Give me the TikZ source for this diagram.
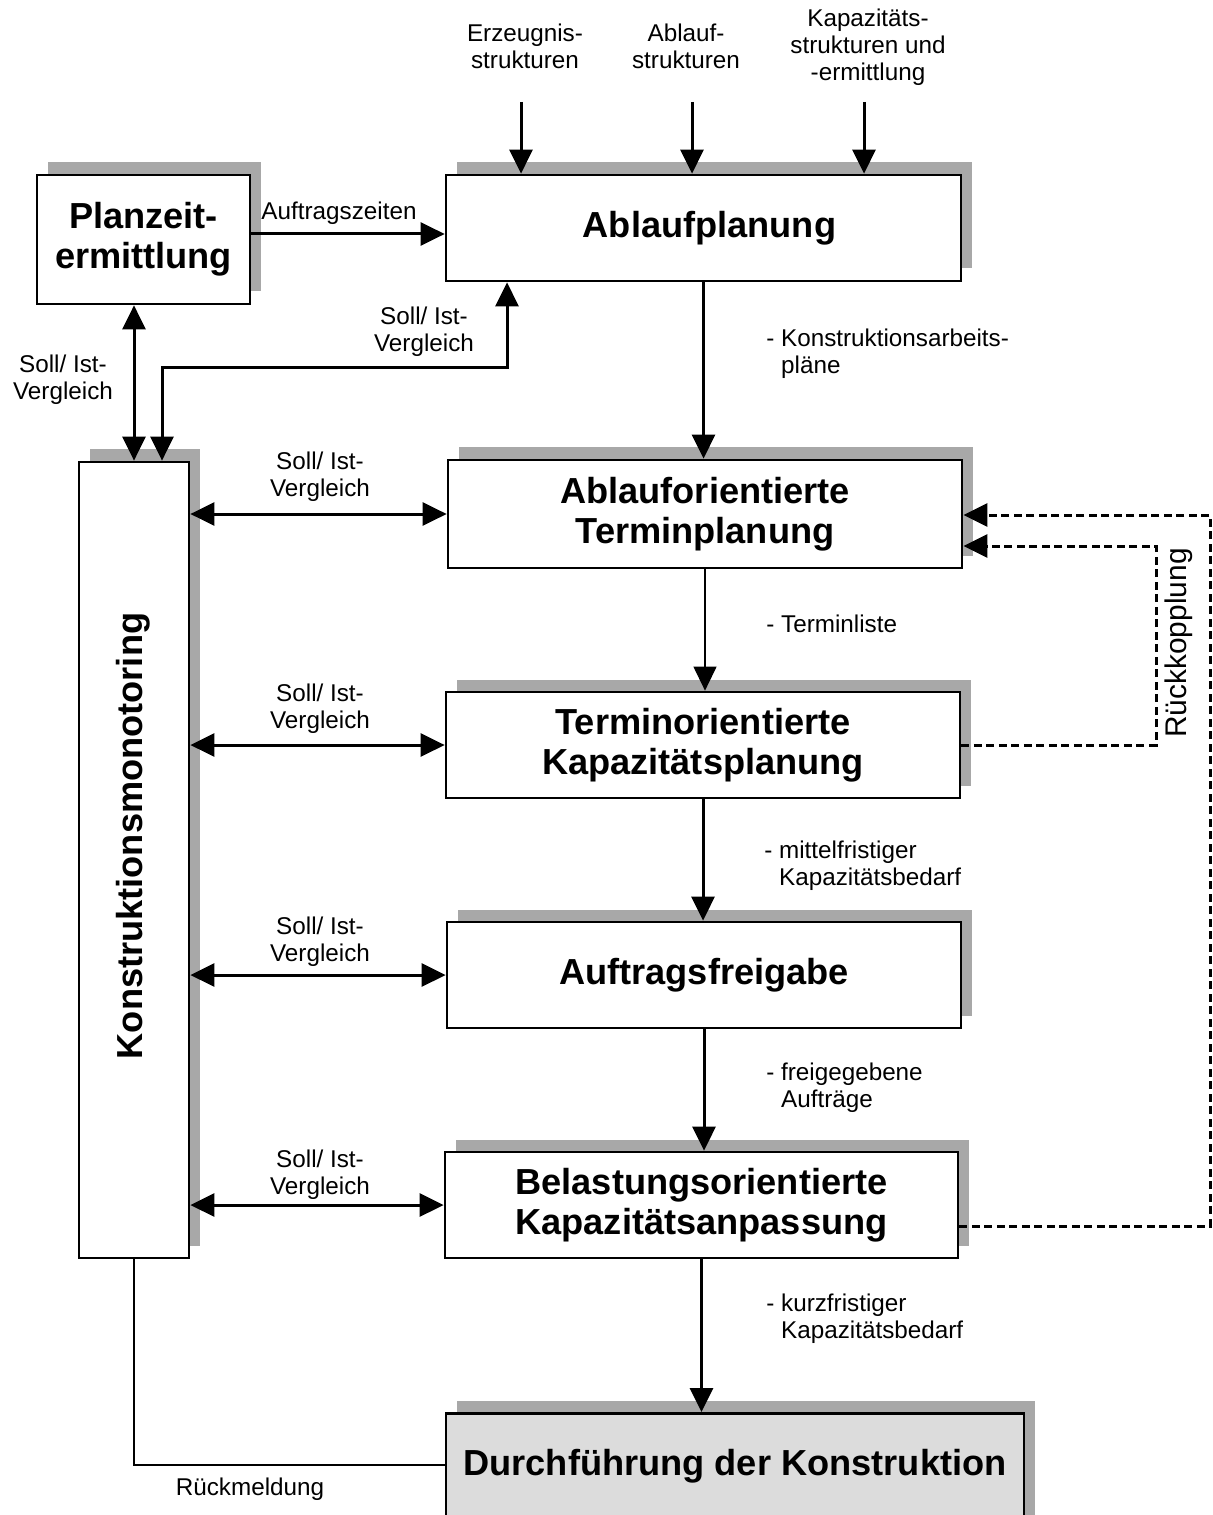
\documentclass[tikz,border=0pt]{standalone}
\usepackage{fontspec}
\setmainfont{Liberation Sans}
\usepackage{tikz}
\usetikzlibrary{arrows.meta,shadows}
\definecolor{shadowgray}{RGB}{168,168,168}
\definecolor{boxgray}{RGB}{220,220,220}

\begin{document}
\begin{tikzpicture}[x=0.2mm, y=-0.2mm,
  box/.style={draw, line width=0.55mm, fill=white, align=center,
    font=\fontsize{20.6}{22.7}\selectfont\bfseries,
    general shadow={fill=shadowgray, shadow xshift=2.2mm, shadow yshift=2.5mm}},
  lbl/.style={align=center, inner sep=0pt, font=\fontsize{13.8}{15.4}\selectfont},
  flow/.style={line width=0.6mm, -{Triangle[length=4.8mm,width=4.6mm]}},
  twoway/.style={line width=0.6mm, {Triangle[length=4.8mm,width=4.6mm]}-{Triangle[length=4.8mm,width=4.6mm]}},
  ruck/.style={line width=0.6mm, dash pattern=on 1.6mm off 0.9mm, -{Triangle[length=4.8mm,width=4.6mm]}}]

\useasboundingbox (0,0) rectangle (1213,1515);
\clip (0,0) rectangle (1213,1515);

% boxes
\node (plan) at (143.5,239.5) [box, minimum width=42.6mm, minimum height=25.8mm] {Planzeit-\\ermittlung};
\node (ablauf) at (703.5,228) [box, minimum width=103mm, minimum height=21.2mm] {\hspace*{2.4mm}Ablaufplanung};
\node (termin) at (705,514) [box, minimum width=102.8mm, minimum height=21.6mm] {Ablauforientierte\\Terminplanung};
\node (kapaz) at (703,745) [box, minimum width=102.8mm, minimum height=21.2mm] {Terminorientierte\\Kapazitätsplanung};
\node (freig) at (704,975) [box, minimum width=102.8mm, minimum height=21.2mm] {Auftragsfreigabe};
\node (belast) at (701.5,1205) [box, minimum width=102.6mm, minimum height=21.2mm] {Belastungsorientierte\\Kapazitätsanpassung};
\node (durch) at (735,1412) [box, fill=boxgray, anchor=north, minimum width=115.6mm,
  text height=5.3mm, text depth=8mm, inner ysep=7.1mm] {Durchführung der Konstruktion};
\node (monitor) at (134,860) [box, minimum width=22mm, minimum height=159.2mm] {};
\node (montext) at (133,836) [rotate=90, font=\fontsize{20.6}{22.7}\selectfont\bfseries] {Konstruktionsmonotoring};

% inputs
\node (in1) at (525,46.5) [lbl] {Erzeugnis-\\strukturen};
\node (in2) at (686,46.5) [lbl] {Ablauf-\\strukturen};
\node (in3) at (868,47) [lbl] {Kapazitäts-\\strukturen und\\-ermittlung};
\coordinate (e1) at (521,102);
\coordinate (e2) at (692,102);
\coordinate (e3) at (864,102);
\draw[flow] (e1) -- (e1 |- ablauf.north);
\draw[flow] (e2) -- (e2 |- ablauf.north);
\draw[flow] (e3) -- (e3 |- ablauf.north);

% planzeit
\draw[flow] ([yshift=1.1mm]plan.east) -- ([yshift=1.1mm]plan.east -| ablauf.west);
\node (auftr) at (339,213) [lbl] {Auftragszeiten};
\draw[twoway] (plan.south -| monitor.north) -- (monitor.north);
\node (sv0) at (63,379.5) [lbl] {Soll/ Ist-\\Vergleich};
\coordinate (s1) at (162,368);
\coordinate (s2) at (507,368);
\draw[twoway] (s1 |- monitor.north) -- (s1) -- (s2) -- (s2 |- ablauf.south);
\node (sv1) at (424,331.5) [lbl] {Soll/ Ist-\\Vergleich};

% main flow
\draw[flow] (ablauf.south) -- (ablauf.south |- termin.north);
\node (f1) at (766,353.5) [lbl, anchor=west, align=left] {- Konstruktionsarbeits-\\\hphantom{- }pläne};
\draw[flow, line width=0.25mm] (termin.south) -- (termin.south |- kapaz.north);
\node (f2) at (766,624) [lbl, anchor=west, align=left] {- Terminliste};
\draw[flow] (kapaz.south) -- (kapaz.south |- freig.north);
\node (f3) at (764,866) [lbl, anchor=west, align=left] {- mittelfristiger\\\hphantom{- }Kapazitätsbedarf};
\draw[flow] (freig.south) -- (freig.south |- belast.north);
\node (f4) at (766,1087.5) [lbl, anchor=west, align=left] {- freigegebene\\\hphantom{- }Aufträge};
\draw[flow] (belast.south) -- (belast.south |- durch.north);
\node (f5) at (766,1318.5) [lbl, anchor=west, align=left] {- kurzfristiger\\\hphantom{- }Kapazitätsbedarf};

% soll/ist comparisons
\draw[twoway] (monitor.east |- termin.west) -- (termin.west);
\node (sv2) at (320,476.5) [lbl] {Soll/ Ist-\\Vergleich};
\draw[twoway] (monitor.east |- kapaz.west) -- (kapaz.west);
\node (sv3) at (320,708.5) [lbl] {Soll/ Ist-\\Vergleich};
\draw[twoway] (monitor.east |- freig.west) -- (freig.west);
\node (sv4) at (320,941.5) [lbl] {Soll/ Ist-\\Vergleich};
\draw[twoway] (monitor.east |- belast.west) -- (belast.west);
\node (sv5) at (320,1174.5) [lbl] {Soll/ Ist-\\Vergleich};

% rueckmeldung
\draw[line width=0.4mm] (monitor.south) |- ([yshift=-10.6mm]durch.north west);
\node (rm) at (250,1489) [lbl] {Rückmeldung};

% rueckkopplung
\coordinate (r1) at (1156,546);
\coordinate (r2) at (1210,515);
\draw[ruck] (kapaz.east) -| (r1) -- (r1 -| termin.east);
\draw[ruck] ([yshift=-4.2mm]belast.east) -| (r2) -- (r2 -| termin.east);
\node (rk) at (1179,643) [lbl, rotate=90, font=\fontsize{17}{19}\selectfont] {Rückkopplung};

\end{tikzpicture}
\end{document}
